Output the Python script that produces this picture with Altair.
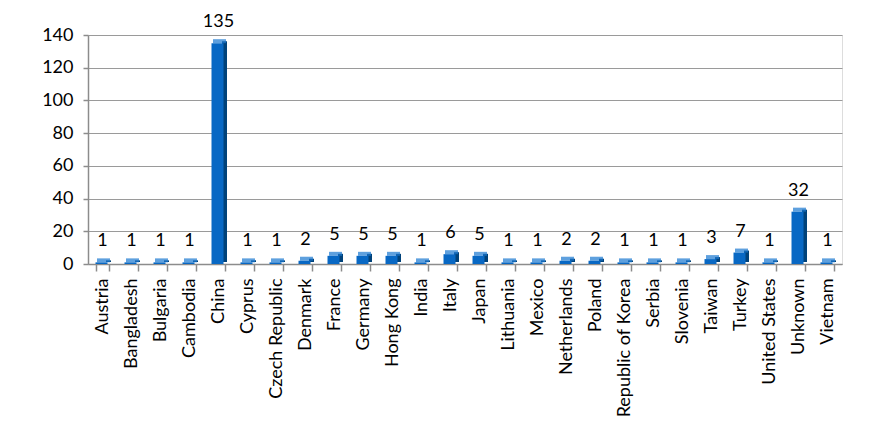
import altair as alt
import pandas as pd

countries = ["Austria", "Bangladesh", "Bulgaria", "Cambodia", "China", "Cyprus",
             "Czech Republic", "Denmark", "France", "Germany", "Hong Kong", "India",
             "Italy", "Japan", "Lithuania", "Mexico", "Netherlands", "Poland",
             "Republic of Korea", "Serbia", "Slovenia", "Taiwan", "Turkey",
             "United States", "Unknown", "Vietnam"]
counts = [1, 1, 1, 1, 135, 1, 1, 2, 5, 5, 5, 1, 6, 5, 1, 1, 2, 2, 1, 1, 1, 3, 7, 1, 32, 1]
y_ticks = [0, 20, 40, 60, 80, 100, 120, 140]

df = pd.DataFrame({"country": countries, "count": counts})

FONT = "Lato"
x = alt.X("country:N", sort=countries, title=None,
          scale=alt.Scale(paddingInner=0.58, paddingOuter=0.29),
          axis=alt.Axis(labelAngle=-90, labelFontSize=18, labelFont=FONT,
                        labelColor="#000000", labelPadding=7, tickBand="extent",
                        tickSize=7, tickColor="#8c8c8c", domainColor="#8c8c8c",
                        domainWidth=1.5, tickWidth=1.5, grid=False))
y = alt.Y("count:Q", title=None,
          scale=alt.Scale(domain=[0, 140], nice=False),
          axis=alt.Axis(values=y_ticks, labelFontSize=18, labelFont=FONT,
                        labelColor="#000000", labelPadding=10, tickSize=5,
                        tickColor="#8c8c8c", domainColor="#8c8c8c",
                        domainWidth=1.5, tickWidth=1.5, gridColor="#9a9a9a",
                        gridWidth=1.2))

base = alt.Chart(df)
side = base.mark_bar(color="#00427a", xOffset=6, yOffset=-2, width=5).encode(x=x, y=y)
front = base.mark_bar(color="#0868c4", width=12, xOffset=-1).encode(x=x, y=y)
top = base.mark_tick(color="#1a78d0", thickness=4, size=13, xOffset=1, yOffset=-2).encode(x=x, y=y)
labels = base.mark_text(font=FONT, fontSize=18, color="#000000", dy=-21,
                        baseline="middle").encode(x=x, y=y, text="count:Q")

chart = alt.layer(side, front, top, labels).properties(
    width=754, height=229,
    autosize=alt.AutoSizeParams(type="none"),
    padding={"left": 80, "top": 27, "right": 40, "bottom": 170},
).configure_view(stroke=None).configure(background="#ffffff")

chart.save("out.html", embed_options={"renderer": "svg", "actions": False})
